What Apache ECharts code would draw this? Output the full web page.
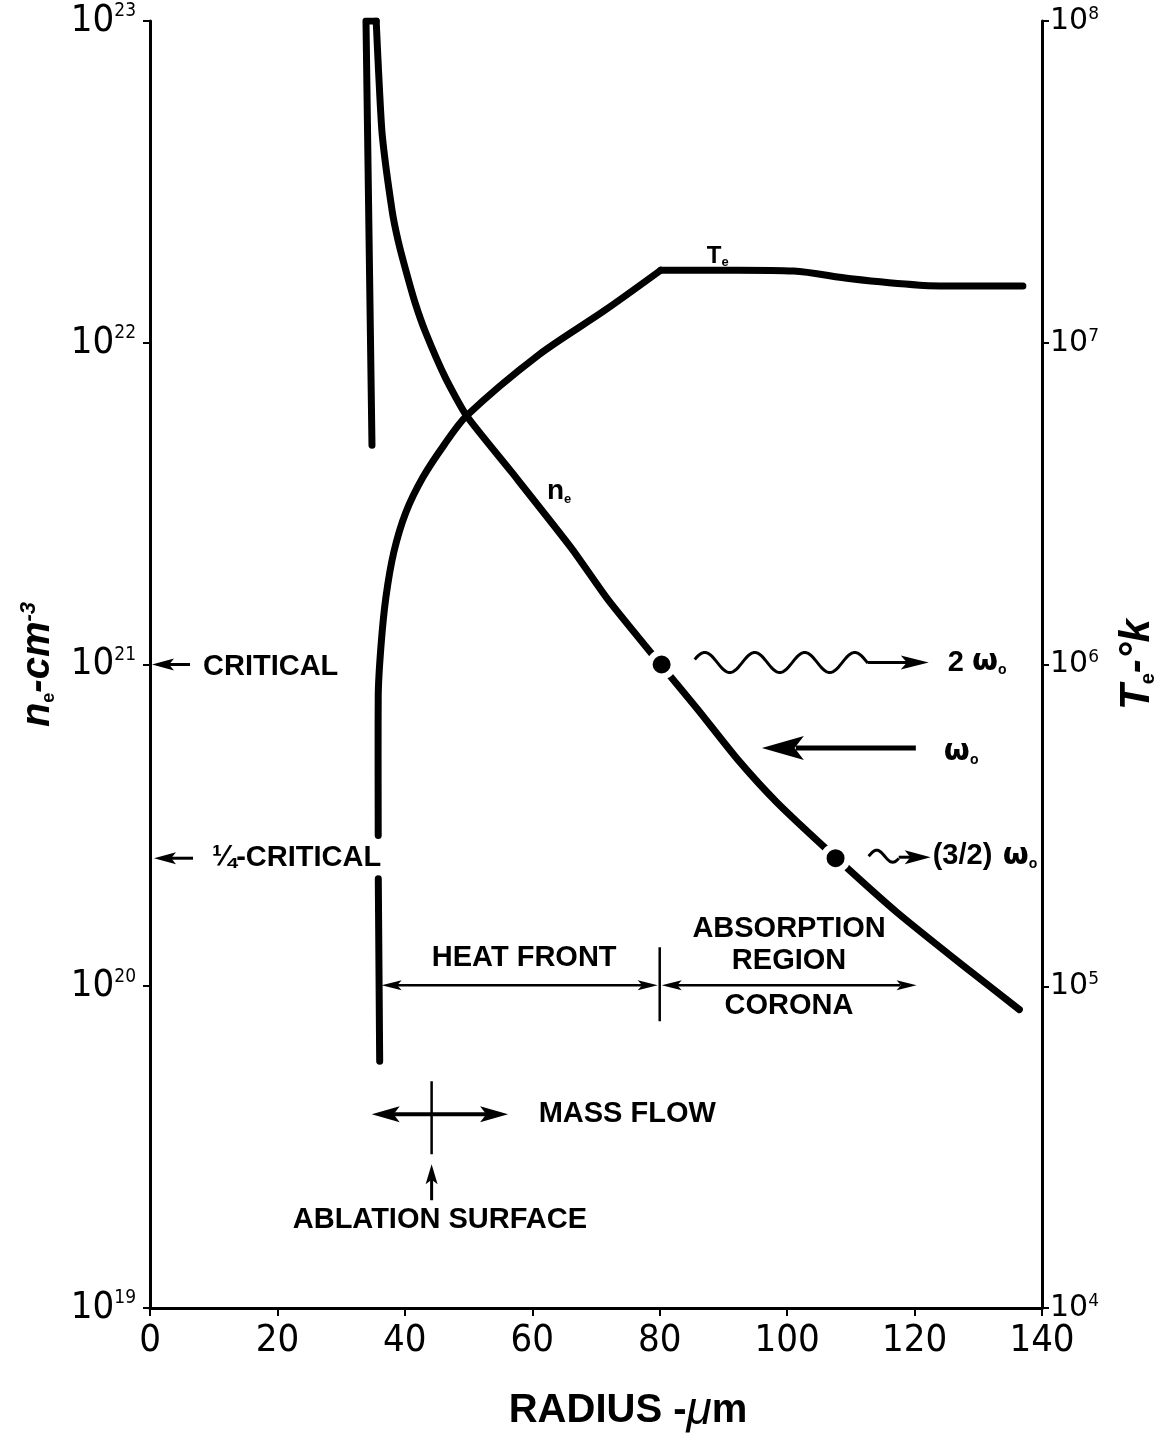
<!DOCTYPE html>
<html>
<head>
<meta charset="utf-8">
<script src="https://cdn.jsdelivr.net/npm/echarts@6/dist/echarts.min.js"></script>
<style>
  html, body { margin: 0; padding: 0; background: #fff; }
  #chart { width: 1166px; height: 1439px; }
</style>
</head>
<body>
<div id="chart"></div>
<script>
// radius in micrometres, density in cm^-3 (left axis), temperature in K (right axis)
const radiusTicks = [0, 20, 40, 60, 80, 100, 120, 140];

// thin spike at the shell, drawn straight
const spikeRadius = [34.84, 33.9, 35.5];
const spikeDensity = [4.8e21, 1e23, 1e23];

// main density profile, drawn smooth
const neRadius = [35.5, 35.86, 36.45, 38.02, 38.98, 40.11, 41.56, 43.23, 46.36, 49.69,
  56.77, 66.14, 71.88, 80.31, 85.94, 92.19, 98.44, 107.55, 117.19, 127.6, 136.45];
const neDensity = [1e23, 7.06e22, 4.42e22, 2.56e22, 2.06e22, 1.69e22, 1.34e22, 1.08e22, 7.79e21, 5.93e21,
  3.96e21, 2.30e21, 1.59e21, 9.9e20, 7.26e20, 5.08e20, 3.72e20, 2.52e20, 1.70e20, 1.16e20, 8.46e19];

// temperature: rising part (with the gap behind the 1/4-critical label) and the flat corona
const teRiseRadius = [36.05, 35.83, '-', 35.82, 35.8, 35.82, 36.25, 37.03, 38.28, 40.16, 42.81, 46.09, 49.69,
  60.94, 71.36, 80.16];
const teRiseKelvin = [5.85e4, 2.16e5, '-', 2.94e5, 5.2e5, 7.96e5, 1.14e6, 1.62e6, 2.24e6, 2.97e6, 3.81e6, 4.79e6, 5.93e6,
  9.15e6, 1.26e7, 1.68e7];
const teFlatRadius = [80.16, 92.2, 101.0, 110.0, 120.8, 128.6, 137.0];
const teFlatKelvin = [1.68e7, 1.68e7, 1.67e7, 1.58e7, 1.51e7, 1.50e7, 1.50e7];

const markerRadius = [80.3, 107.6];
const markerDensity = [1e21, 2.5e20];

const narrow = '"Liberation Sans Narrow", "DejaVu Sans Condensed", sans-serif';
const bold = '"Liberation Sans", Arial, sans-serif';

const chart = echarts.init(document.getElementById('chart'));

const powLabel = (v) => '{b|10}{s|' + Math.round(Math.log10(v)) + '}';
const pairs = (xs, ys) => xs.map((x, i) => [x, ys[i]]);
const thick = { color: '#000', width: 7, cap: 'round', join: 'round' };

const option = {
  animation: false,
  backgroundColor: '#fff',
  grid: { left: 150, right: 120, top: 21, bottom: 124 },
  xAxis: {
    type: 'value',
    min: radiusTicks[0],
    max: radiusTicks[radiusTicks.length - 1],
    interval: radiusTicks[1] - radiusTicks[0],
    axisLine: { show: true, onZero: false, lineStyle: { color: '#000', width: 3 } },
    axisTick: { show: true, length: 8, lineStyle: { color: '#000', width: 2 } },
    axisLabel: { margin: 14, color: '#000', fontSize: 38, fontFamily: narrow, showMinLabel: true, showMaxLabel: true },
    splitLine: { show: false },
    name: '{r|RADIUS -}{m|μ}{r|m}',
    nameLocation: 'middle',
    nameGap: 80,
    nameTextStyle: {
      padding: [0, 0, 0, 64],
      rich: {
        r: { fontSize: 40, fontWeight: 'bold', fontFamily: bold, color: '#000' },
        m: { fontSize: 46, fontStyle: 'italic', fontFamily: bold, color: '#000' }
      }
    }
  },
  yAxis: [
    {
      type: 'log',
      logBase: 10,
      min: 1e19,
      max: 1e23,
      position: 'left',
      axisLine: { show: true, lineStyle: { color: '#000', width: 3 } },
      axisTick: { show: true, length: 7, lineStyle: { color: '#000', width: 2 } },
      minorTick: { show: false },
      splitLine: { show: false },
      axisLabel: {
        margin: 14,
        formatter: powLabel,
        rich: {
          b: { fontSize: 38, fontFamily: narrow, color: '#000' },
          s: { fontSize: 19, fontFamily: narrow, color: '#000', verticalAlign: 'top' }
        }
      },
      name: '{n|n}{e|e}{n|-cm}{s|-3}',
      nameLocation: 'middle',
      nameRotate: 90,
      nameGap: 92,
      nameTextStyle: {
        rich: {
          n: { fontSize: 40, fontWeight: 'bold', fontStyle: 'italic', fontFamily: bold, color: '#000' },
          e: { fontSize: 18, fontWeight: 'bold', fontFamily: bold, color: '#000', verticalAlign: 'bottom' },
          s: { fontSize: 22, fontWeight: 'bold', fontStyle: 'italic', fontFamily: bold, color: '#000', verticalAlign: 'top' }
        }
      }
    },
    {
      type: 'log',
      logBase: 10,
      min: 1e4,
      max: 1e8,
      position: 'right',
      axisLine: { show: true, lineStyle: { color: '#000', width: 3 } },
      axisTick: { show: true, length: 7, lineStyle: { color: '#000', width: 2 } },
      minorTick: { show: false },
      splitLine: { show: false },
      axisLabel: {
        margin: 8,
        formatter: powLabel,
        rich: {
          b: { fontSize: 30, fontFamily: '"DejaVu Sans", sans-serif', color: '#000' },
          s: { fontSize: 17, fontFamily: '"DejaVu Sans", sans-serif', color: '#000', verticalAlign: 'top' }
        }
      },
      name: '{n|T}{e|e}{n|-°k}',
      nameLocation: 'middle',
      nameRotate: 90,
      nameGap: 74,
      nameTextStyle: {
        rich: {
          n: { fontSize: 42, fontWeight: 'bold', fontStyle: 'italic', fontFamily: bold, color: '#000' },
          e: { fontSize: 20, fontWeight: 'bold', fontFamily: bold, color: '#000', verticalAlign: 'bottom' }
        }
      }
    }
  ],
  series: [
    { name: 'ne spike', type: 'line', yAxisIndex: 0, data: pairs(spikeRadius, spikeDensity),
      symbol: 'none', lineStyle: thick, z: 3 },
    { name: 'ne', type: 'line', yAxisIndex: 0, data: pairs(neRadius, neDensity),
      symbol: 'none', smooth: 0.2, lineStyle: thick, z: 3 },
    { name: 'Te rise', type: 'line', yAxisIndex: 1, data: pairs(teRiseRadius, teRiseKelvin),
      symbol: 'none', smooth: 0.3, connectNulls: false, lineStyle: thick, z: 3 },
    { name: 'Te corona', type: 'line', yAxisIndex: 1, data: pairs(teFlatRadius, teFlatKelvin),
      symbol: 'none', smooth: 0.3, lineStyle: thick, z: 3 },
    {
      name: 'markers',
      type: 'scatter',
      yAxisIndex: 0,
      data: pairs(markerRadius, markerDensity),
      symbol: 'circle',
      symbolSize: 24,
      itemStyle: { color: '#000', borderColor: '#fff', borderWidth: 6, opacity: 1 },
      z: 5
    }
  ]
};

chart.setOption(option);

// ---- annotations, placed from data coordinates ----
const toPx = (r, n) => chart.convertToPixel({ xAxisIndex: 0, yAxisIndex: 0 }, [r, n]);

const seg = (x1, y1, x2, y2, w) => ({
  type: 'line', shape: { x1, y1, x2, y2 }, style: { stroke: '#000', lineWidth: w }, z: 10
});
const head = (tx, ty, dx, dy, len, half) => {
  const bx = tx - dx * len, by = ty - dy * len;
  const nx = tx - dx * len * 0.78, ny = ty - dy * len * 0.78;
  return {
    type: 'polygon', z: 10,
    shape: { points: [[tx, ty], [bx - dy * half, by + dx * half], [nx, ny], [bx + dy * half, by - dx * half]] },
    style: { fill: '#000' }
  };
};
const label = (x, y, text, size, align, rich) => ({
  type: 'text', x, y, z: 10,
  style: {
    text, align: align || 'left', verticalAlign: 'middle',
    fontSize: size, fontWeight: 'bold', fontFamily: bold, fill: '#000', rich
  }
});
const wave = (x1, x2, yc, amp, period, start) => {
  const pts = [];
  for (let x = x1; x <= x2; x += 1) {
    pts.push([x, yc - amp * Math.cos(2 * Math.PI * (x - start) / period)]);
  }
  return { type: 'polyline', z: 10, shape: { points: pts }, style: { stroke: '#000', lineWidth: 3, fill: null } };
};

const omegaRich = {
  n: { fontSize: 29, fontWeight: 'bold', fontFamily: bold, fill: '#000' },
  w: { fontSize: 30, fontWeight: 'bold', fontFamily: '"DejaVu Sans", sans-serif', fill: '#000' },
  o: { fontSize: 14, fontWeight: 'bold', fontFamily: bold, fill: '#000', verticalAlign: 'bottom' }
};

const FS = 29;
const [x0, yCrit] = toPx(0, 1e21);
const yQuarter = toPx(0, 2.5e20)[1];
const yFront = toPx(0, 1e20)[1] - 1;
const xSurf = toPx(36.2, 1e20)[0];
const xFront = toPx(80, 1e20)[0];
const xCorona = toPx(120, 1e20)[0];
const xAbl = toPx(44.2, 1e20)[0];

const g = [];
// critical / quarter critical
g.push(seg(x0 + 40, yCrit, x0 + 16, yCrit, 3), head(x0 + 2, yCrit, -1, 0, 22, 6));
g.push(label(x0 + 53, yCrit + 2, 'CRITICAL', FS));
g.push(seg(x0 + 43, yQuarter, x0 + 18, yQuarter, 3), head(x0 + 4, yQuarter, -1, 0, 22, 6));
g.push(label(x0 + 62, yQuarter, '¼-CRITICAL', FS));

// heat front / corona
g.push(seg(xSurf + 14, yFront, xFront - 14, yFront, 2.5));
g.push(head(xSurf + 1, yFront, -1, 0, 20, 5), head(xFront - 2, yFront, 1, 0, 20, 5));
g.push(seg(xFront, yFront - 38, xFront, yFront + 36, 2.5));
g.push(seg(xFront + 14, yFront, xCorona - 14, yFront, 2.5));
g.push(head(xFront + 2, yFront, -1, 0, 20, 5), head(xCorona + 2, yFront, 1, 0, 20, 5));
g.push(label((xSurf + xFront) / 2 + 4, yFront - 27, 'HEAT FRONT', FS, 'center'));
const xReg = toPx(100.3, 1e20)[0];
g.push(label(xReg, yFront - 56, 'ABSORPTION', FS, 'center'));
g.push(label(xReg, yFront - 24, 'REGION', FS, 'center'));
g.push(label(xReg, yFront + 21, 'CORONA', FS, 'center'));

// mass flow and ablation surface
const yMass = yFront + 129;
const xMassL = toPx(34.8, 1e20)[0], xMassR = toPx(56.2, 1e20)[0];
g.push(seg(xMassL + 20, yMass, xMassR - 20, yMass, 4));
g.push(head(xMassL, yMass, -1, 0, 28, 8), head(xMassR, yMass, 1, 0, 28, 8));
g.push(seg(xAbl, yMass - 33, xAbl, yMass + 40, 2.5));
g.push(label(toPx(61, 1e20)[0], yMass, 'MASS FLOW', FS));
g.push(seg(xAbl, yMass + 86, xAbl, yMass + 60, 3), head(xAbl, yMass + 50, 0, -1, 20, 6));
g.push(label(toPx(45.5, 1e20)[0], yMass + 106, 'ABLATION SURFACE', FS, 'center'));

// harmonic emission and incident light
const xw1 = toPx(85.5, 1e21)[0];
g.push(wave(xw1, xw1 + 173, yCrit - 2, 10, 50, xw1 + 10));
g.push(seg(xw1 + 173, yCrit - 2, xw1 + 215, yCrit - 2, 3), head(xw1 + 234, yCrit - 2, 1, 0, 28, 7));
g.push(label(xw1 + 253, yCrit - 2, '{n|2 }{w|ω}{o|o}', FS, 'left', omegaRich));

const yOmega = toPx(0, 5.5e20)[1];
const xOmega = toPx(120.2, 5.5e20)[0];
g.push(seg(xOmega, yOmega, xOmega - 120, yOmega, 5), head(xOmega - 154, yOmega, -1, 0, 42, 12));
g.push(label(xOmega + 28, yOmega + 4, '{w|ω}{o|o}', FS, 'left', omegaRich));

const xw2 = toPx(112.8, 2.5e20)[0];
g.push(wave(xw2, xw2 + 30, yQuarter - 2, 6, 32, xw2 + 8));
g.push(seg(xw2 + 30, yQuarter - 1, xw2 + 44, yQuarter - 1, 3), head(xw2 + 62, yQuarter - 1, 1, 0, 26, 7));
g.push(label(xw2 + 64, yQuarter - 2, '{n|(3/2)}{w| ω}{o|o}', FS, 'left',
  Object.assign({}, omegaRich, { w: Object.assign({}, omegaRich.w, { verticalAlign: 'bottom' }) })));

// curve labels
const teAnchor = chart.convertToPixel({ xAxisIndex: 0, yAxisIndex: 1 }, [89.1, 1.85e7]);
g.push(label(teAnchor[0], teAnchor[1], '{t|T}{e|e}', 22, 'center', {
  t: { fontSize: 24, fontWeight: 'bold', fontFamily: bold, fill: '#000' },
  e: { fontSize: 13, fontWeight: 'bold', fontFamily: bold, fill: '#000', verticalAlign: 'bottom' }
}));
const neAnchor = toPx(64.2, 3.45e21);
g.push(label(neAnchor[0], neAnchor[1], '{t|n}{e|e}', 24, 'center', {
  t: { fontSize: 28, fontWeight: 'bold', fontFamily: bold, fill: '#000' },
  e: { fontSize: 13, fontWeight: 'bold', fontFamily: bold, fill: '#000', verticalAlign: 'bottom' }
}));

chart.setOption({ graphic: g });

window.addEventListener('resize', () => chart.resize());
</script>
</body>
</html>
